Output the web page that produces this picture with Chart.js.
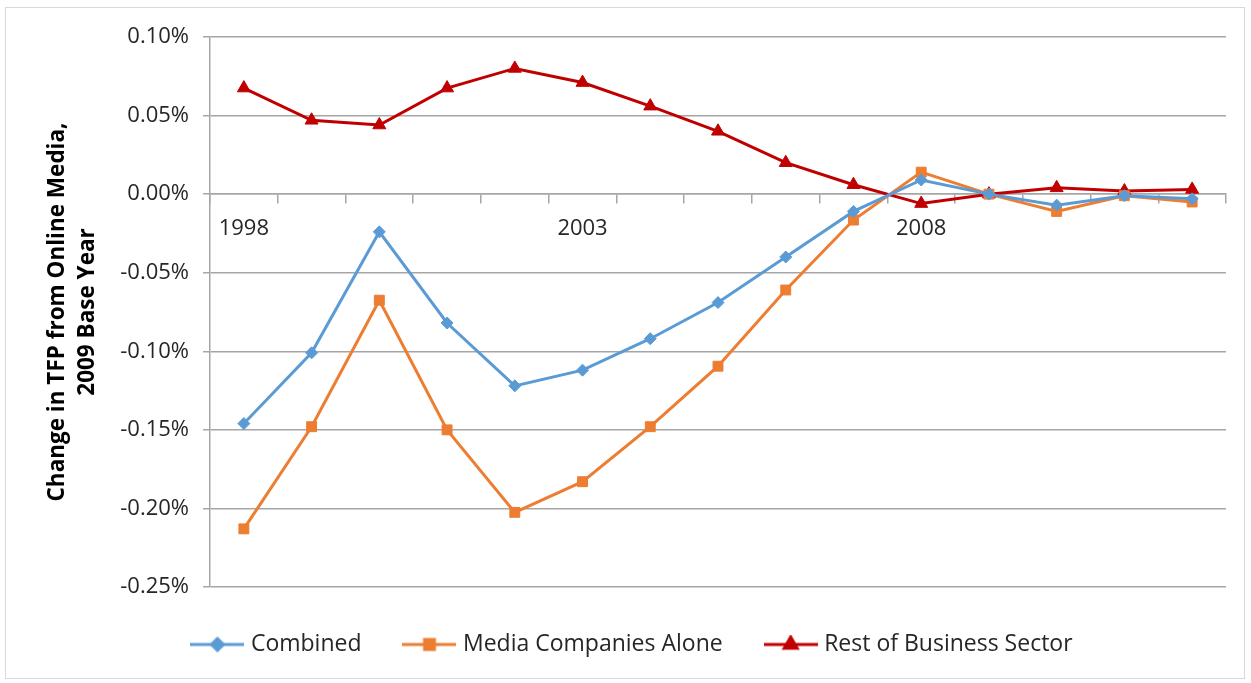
<!DOCTYPE html>
<html>
<head>
<meta charset="utf-8">
<title>Change in TFP from Online Media</title>
<script src="https://cdn.jsdelivr.net/npm/chart.js@4/dist/chart.umd.min.js"></script>
<style>
  html, body { margin: 0; padding: 0; background: #fff; }
  #frame {
    position: absolute; left: 5px; top: 7px; width: 1240px; height: 672px;
    border: 1px solid #d9d9d9; box-sizing: border-box;
  }
  #wrap { position: absolute; left: 0; top: 0; width: 1251px; height: 683px; }
</style>
</head>
<body>
<div id="frame"></div>
<div id="wrap"><canvas id="c"></canvas></div>
<script>
const years = ['1998', '1999', '2000', '2001', '2002', '2003', '2004', '2005',
  '2006', '2007', '2008', '2009', '2010', '2011', '2012']

// percent change in TFP, 2009 = base year
const combined = [-0.146, -0.101, -0.024, -0.082, -0.122, -0.112, -0.092, -0.069,
  -0.040, -0.011, 0.009, 0.000, -0.007, -0.001, -0.003]
const mediaAlone = [-0.213, -0.148, -0.0675, -0.150, -0.2025, -0.183, -0.148, -0.1095,
  -0.061, -0.0165, 0.014, 0.000, -0.011, -0.001, -0.005]
const restOfBusiness = [0.0675, 0.047, 0.044, 0.0675, 0.080, 0.071, 0.056, 0.040,
  0.020, 0.006, -0.006, 0.000, 0.004, 0.002, 0.003]

const yTicks = [0.10, 0.05, 0.00, -0.05, -0.10, -0.15, -0.20, -0.25]

const BLUE = '#5b9bd5'
const ORANGE = '#ed7d31'
const RED = '#c00000'
const FONT = "'Open Sans', sans-serif"

// little line + marker picture for each legend entry
function legendIcon(color, style, r) {
  const cv = document.createElement('canvas')
  cv.width = 54
  cv.height = 20
  const ctx = cv.getContext('2d')
  ctx.strokeStyle = color
  ctx.lineWidth = 3
  ctx.beginPath()
  ctx.moveTo(0, 10)
  ctx.lineTo(54, 10)
  ctx.stroke()
  ctx.fillStyle = color
  Chart.helpers.drawPoint(ctx, {
    pointStyle: style, radius: r, borderWidth: 1, rotation: 0
  }, 27, 10)
  return cv
}

function series(label, data, color, style, r) {
  return {
    label: label,
    data: data,
    borderColor: color,
    backgroundColor: color,
    borderWidth: 3,
    pointStyle: style,
    pointRadius: r,
    pointHoverRadius: r,
    pointBorderWidth: 1,
    tension: 0
  }
}

const datasets = [
  series('Combined', combined, BLUE, 'rectRot', 6),
  series('Media Companies Alone', mediaAlone, ORANGE, 'rect', 7),
  series('Rest of Business Sector', restOfBusiness, RED, 'triangle', 7.5)
]

new Chart(document.getElementById('c'), {
  type: 'line',
  data: { labels: years, datasets: datasets },
  options: {
    responsive: true,
    maintainAspectRatio: false,
    animation: false,
    layout: { padding: { left: 42, right: 25, top: 37, bottom: 17 } },
    plugins: {
      tooltip: { enabled: false },
      legend: {
        position: 'bottom',
        labels: {
          color: '#262626',
          font: { family: FONT, size: 23 },
          usePointStyle: true,
          pointStyleWidth: 44,
          padding: 46,
          generateLabels: function (chart) {
            return chart.data.datasets.map(function (ds, i) {
              return {
                text: ds.label,
                fontColor: '#262626',
                pointStyle: legendIcon(ds.borderColor, ds.pointStyle, ds.pointRadius),
                datasetIndex: i,
                lineWidth: 0,
                strokeStyle: ds.borderColor,
                fillStyle: ds.borderColor
              }
            })
          }
        }
      }
    },
    scales: {
      x: {
        position: { y: 0 },
        offset: true,
        grid: {
          offset: true,
          drawOnChartArea: false,
          drawTicks: true,
          tickLength: 9,
          color: '#a6a6a6',
          lineWidth: 1.5
        },
        border: { color: '#a6a6a6', width: 1.5 },
        ticks: {
          autoSkip: false,
          maxRotation: 0,
          padding: 12,
          color: '#262626',
          font: { family: FONT, size: 22 },
          callback: function (v, i) { return i % 5 === 0 ? years[i] : '' }
        }
      },
      y: {
        min: -0.25,
        max: 0.10,
        afterBuildTicks: function (axis) {
          axis.ticks = yTicks.map(function (v) { return { value: v } })
        },
        afterFit: function (axis) { axis.width = 168 },
        grid: {
          color: '#a6a6a6',
          lineWidth: 1.5,
          tickLength: 7
        },
        border: { color: '#a6a6a6', width: 1.5 },
        ticks: {
          padding: 14,
          color: '#262626',
          font: { family: FONT, size: 22 },
          callback: function (v) { return v.toFixed(2) + '%' }
        },
        title: {
          display: true,
          text: ['Change in TFP from Online Media,', '2009 Base Year'],
          color: '#000',
          font: { family: FONT, size: 22.5, weight: 'bold', lineHeight: 1.35 },
          padding: { top: 0, bottom: 10 }
        }
      }
    }
  }
})
</script>
</body>
</html>
